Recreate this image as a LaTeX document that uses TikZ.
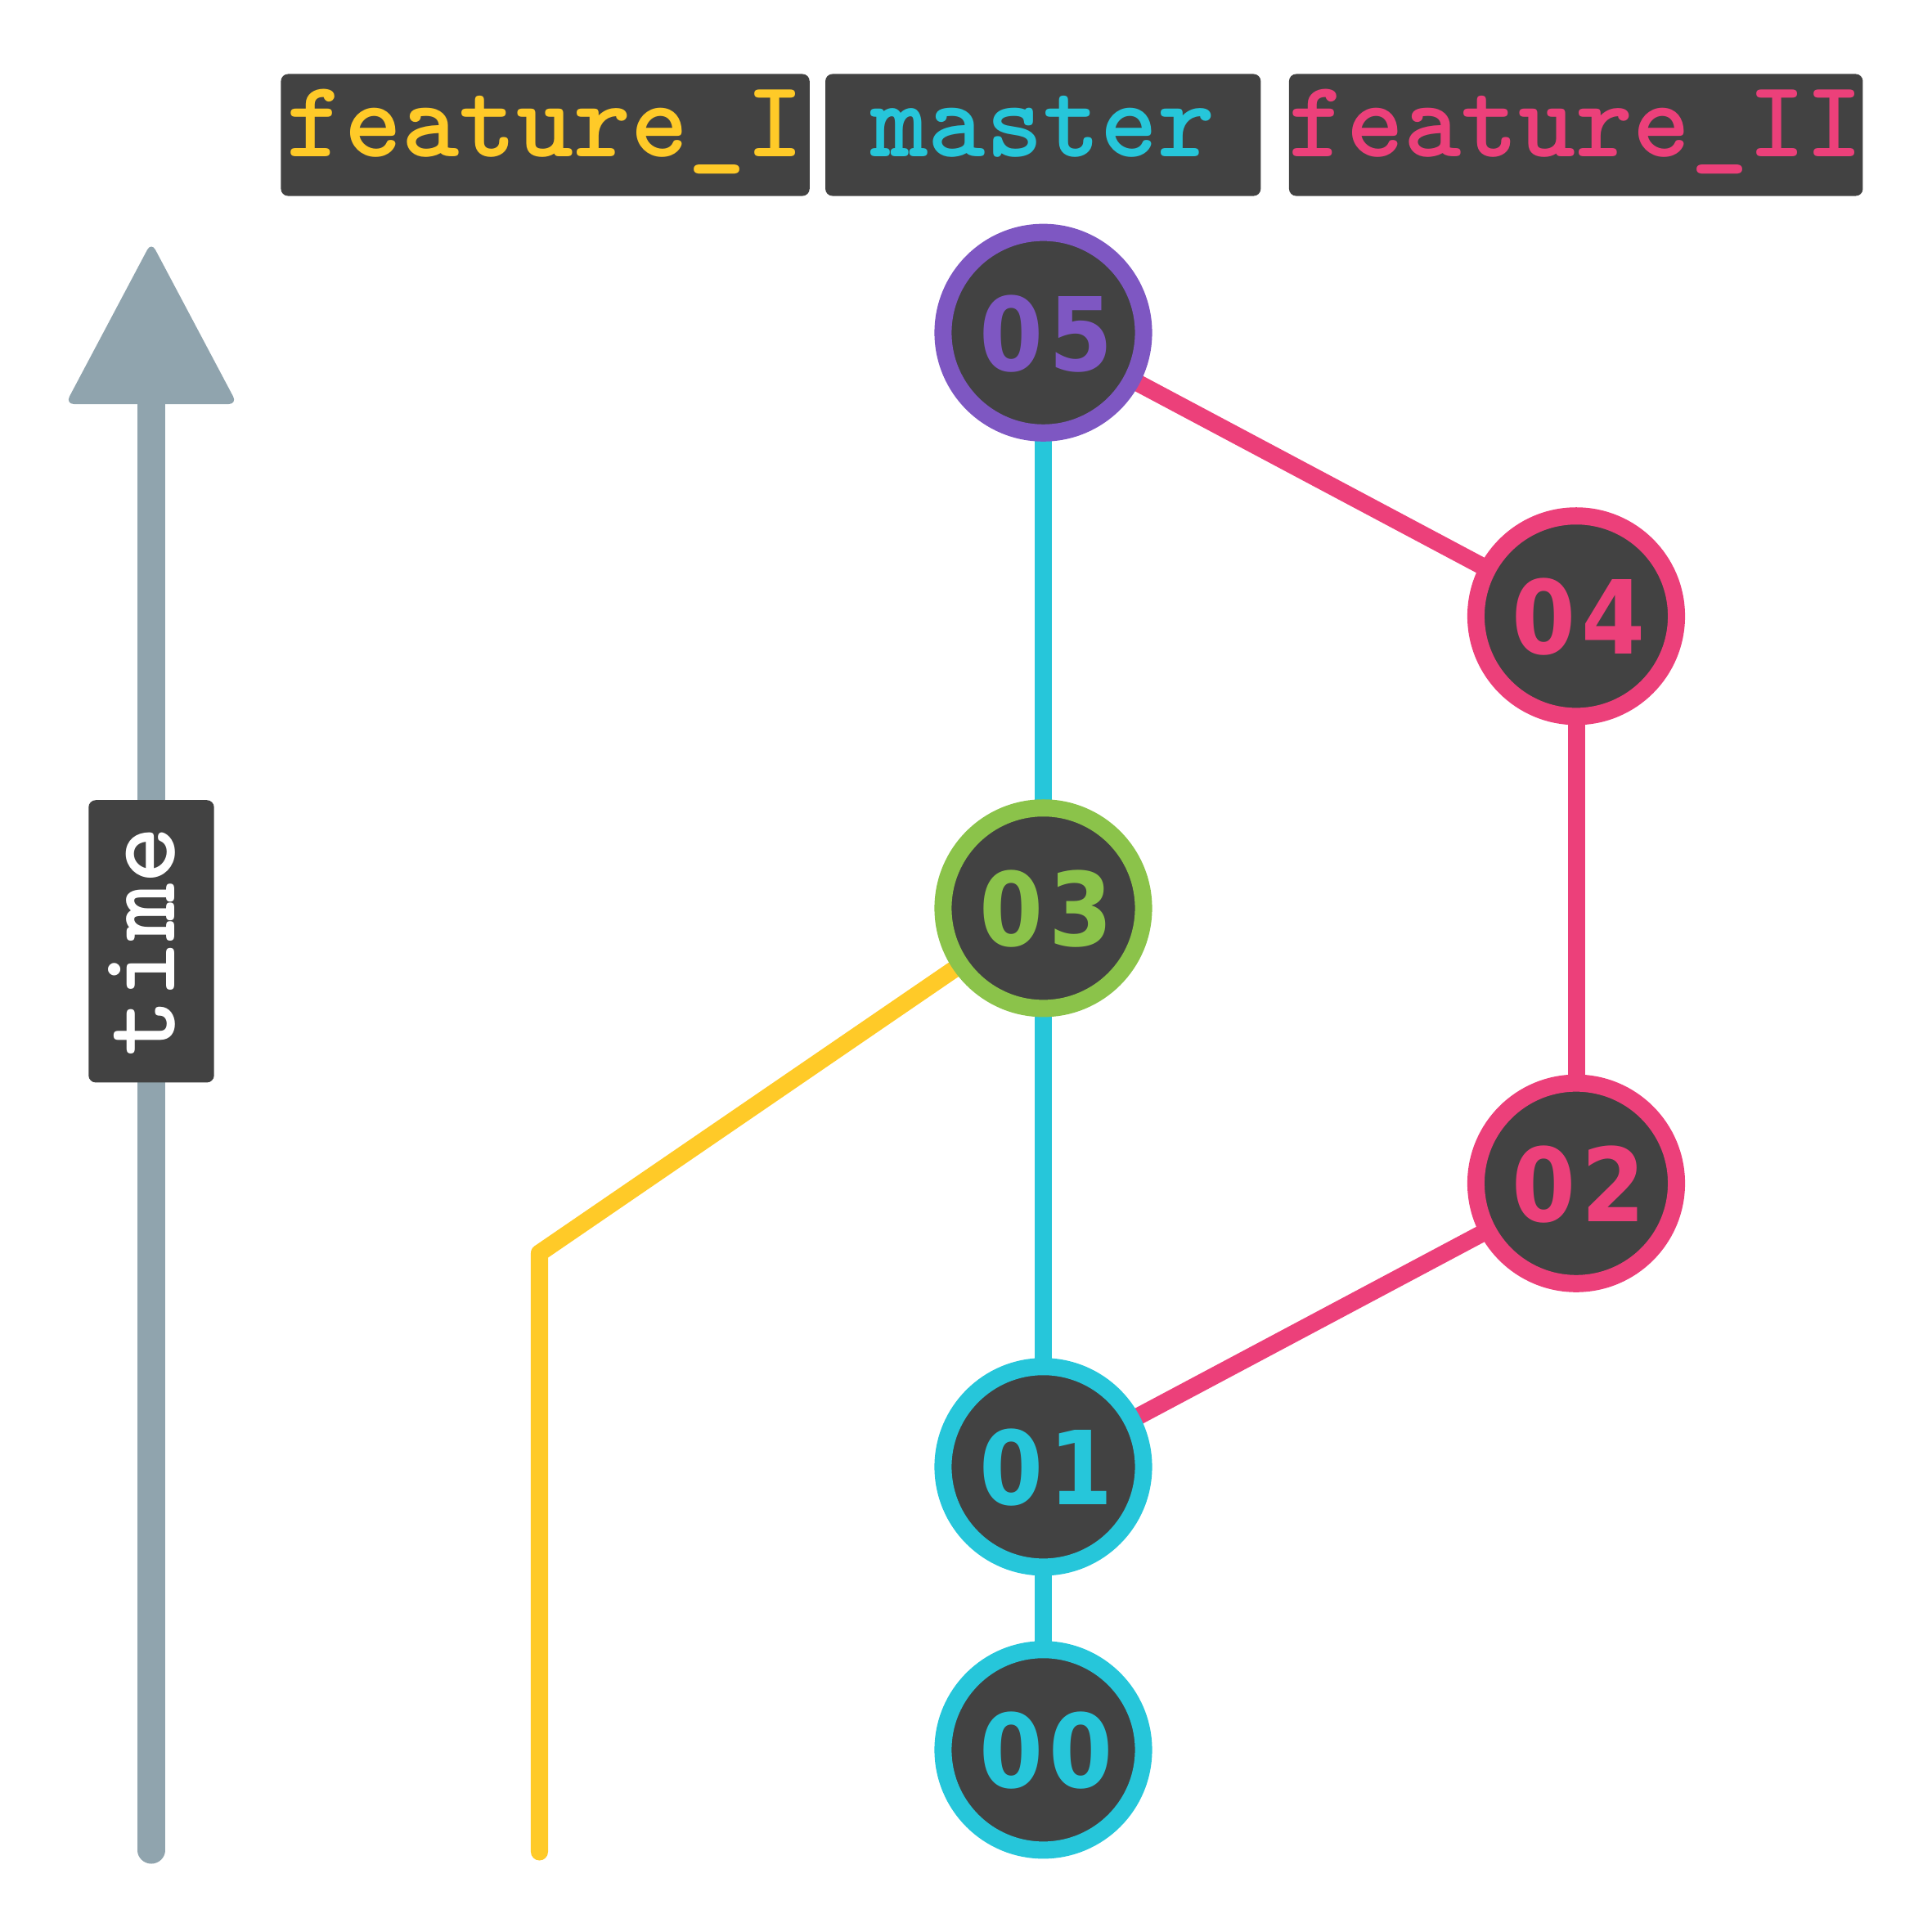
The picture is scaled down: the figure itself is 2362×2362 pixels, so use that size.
\documentclass[tikz,border=0pt]{standalone}
\usepackage{fontspec}
\newfontfamily\digitfont[LetterSpace=5.5]{DejaVu Sans Condensed}
\definecolor{darkc}{HTML}{424242}
\definecolor{cyanc}{HTML}{26C6DA}
\definecolor{pinkc}{HTML}{EC407A}
\definecolor{purplec}{HTML}{7E57C2}
\definecolor{greenc}{HTML}{8BC34A}
\definecolor{yellowc}{HTML}{FFCA28}
\definecolor{grayc}{HTML}{90A4AE}
\pgfdeclarelayer{bg}
\pgfsetlayers{bg,main}
\tikzset{
  commit/.style={circle, draw=#1, fill=darkc, line width=5.975pt, minimum size=2.45cm,
    inner sep=0pt, text=#1, text depth=0pt,
    font=\digitfont\bfseries\fontsize{35.5}{35.5}\selectfont,
    execute at begin node=\kern0.055em},
  branch/.style={fill=darkc, rounded corners=2.5pt, minimum height=1.49cm,
    text height=0.52cm, text depth=0pt, inner sep=0pt,
    font=\ttfamily\bfseries\fontsize{38}{38}\selectfont},
  link/.style={line width=5.975pt, draw=#1, line cap=round, line join=round},
}
\begin{document}
\begin{tikzpicture}[x=0.01cm,y=-0.01cm]
\useasboundingbox (0,0) rectangle (2362,2362);
% branch labels
\node[branch, text=yellowc, minimum width=6.46cm] (fI) at (666.6,165) {feature\_I};
\node[branch, text=cyanc, minimum width=5.32cm] (mst) at (1275.2,165) {master};
\node[branch, text=pinkc, minimum width=6.99cm] (fII) at (1926.7,165) {feature\_II};
% commits
\node[commit=cyanc] (c00) at (1275.5,2139.3) {00};
\node[commit=cyanc] (c01) at (1275.5,1793.3) {01};
\node[commit=pinkc] (c02) at (1927,1446.7) {02};
\node[commit=greenc] (c03) at (1275.5,1110.3) {03};
\node[commit=pinkc] (c04) at (1927,753.3) {04};
\node[commit=purplec] (c05) at (1275.5,406.7) {05};
% time axis
\coordinate (tbot) at (185,2262);
\coordinate (tbase) at (185,480);
\node[fill=darkc, rounded corners=2.5pt, rotate=90, minimum width=3.45cm,
  minimum height=1.534cm, inner sep=0pt, text=white, text height=0.56cm, text depth=0pt,
  font=\ttfamily\bfseries\fontsize{38}{38}\selectfont] (time) at (185,1150.8) {time};
\coordinate (ycorner) at (659.5,1532);
\coordinate (ybot) at (659.5,2264);
\begin{pgfonlayer}{bg}
  \draw[link=grayc, line width=9.39pt] (tbot) -- (tbase);
  \fill[grayc, rounded corners=3pt] (185,296) -- (80,494) -- (290,494) -- cycle;
  \draw[link=cyanc] (c05.center) -- (c03.center);
  \draw[link=cyanc] (c03.center) -- (c01.center);
  \draw[link=cyanc] (c01.center) -- (c00.center);
  \draw[link=pinkc] (c05.center) -- (c04.center);
  \draw[link=pinkc] (c04.center) -- (c02.center);
  \draw[link=pinkc] (c02.center) -- (c01.center);
  \draw[link=yellowc] (c03.center) -- (ycorner) -- (ybot);
\end{pgfonlayer}
\end{tikzpicture}
\end{document}
